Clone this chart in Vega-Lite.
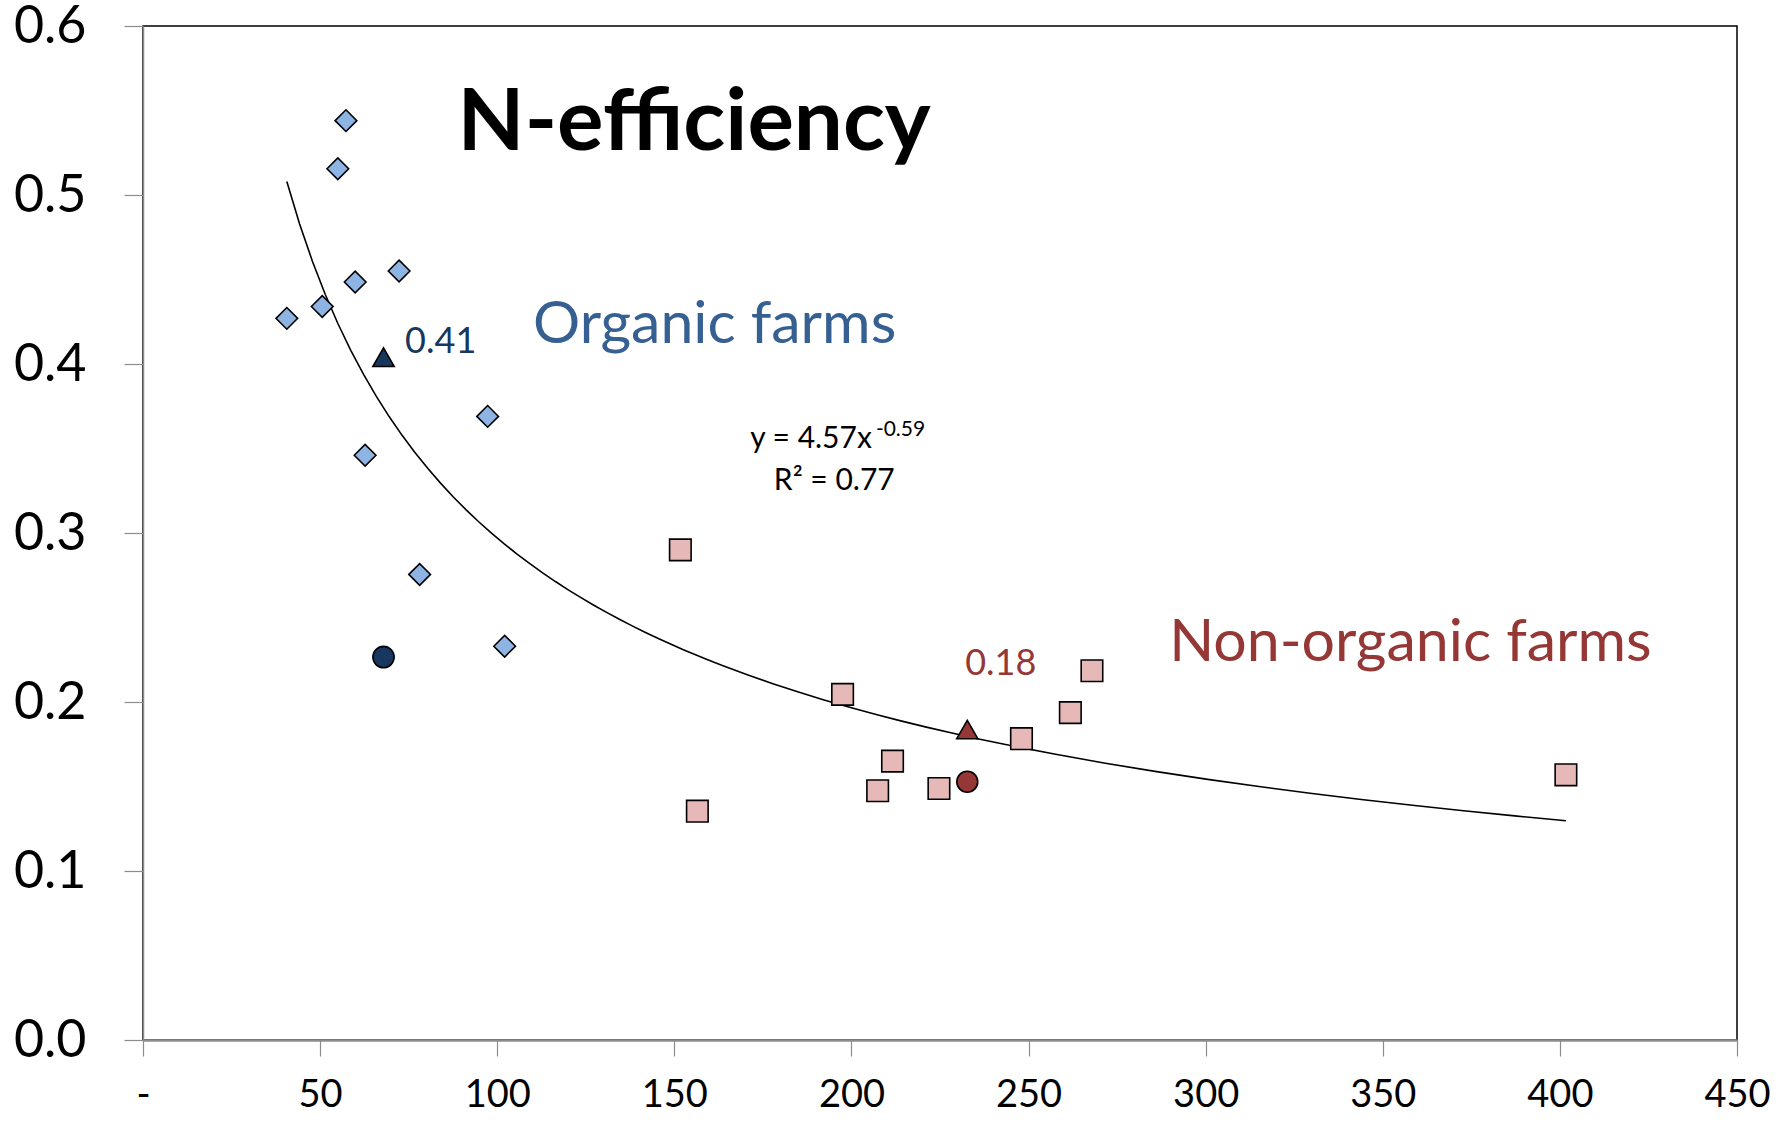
{
  "$schema": "https://vega.github.io/schema/vega-lite/v6.json",
  "width": 1594,
  "height": 1014,
  "autosize": {"type": "none"},
  "padding": {"left": 143, "top": 26, "right": 41, "bottom": 85},
  "background": "white",
  "config": {
    "font": "Lato",
    "view": {"stroke": "black", "strokeWidth": 1.5}
  },
  "datasets": {
    "farms": [
      {"series": "Organic farm", "x": 57.3, "y": 0.544},
      {"series": "Organic farm", "x": 55.0, "y": 0.5155},
      {"series": "Organic farm", "x": 72.3, "y": 0.455},
      {"series": "Organic farm", "x": 59.9, "y": 0.4485},
      {"series": "Organic farm", "x": 40.6, "y": 0.427},
      {"series": "Organic farm", "x": 50.6, "y": 0.434},
      {"series": "Organic farm", "x": 97.3, "y": 0.369},
      {"series": "Organic farm", "x": 62.7, "y": 0.346},
      {"series": "Organic farm", "x": 78.1, "y": 0.2755},
      {"series": "Organic farm", "x": 102.1, "y": 0.233},
      {"series": "Non-organic farm", "x": 151.7, "y": 0.290},
      {"series": "Non-organic farm", "x": 156.5, "y": 0.1354},
      {"series": "Non-organic farm", "x": 197.5, "y": 0.2045},
      {"series": "Non-organic farm", "x": 211.6, "y": 0.165},
      {"series": "Non-organic farm", "x": 207.4, "y": 0.1475},
      {"series": "Non-organic farm", "x": 224.7, "y": 0.1488},
      {"series": "Non-organic farm", "x": 248.0, "y": 0.1783},
      {"series": "Non-organic farm", "x": 261.8, "y": 0.1937},
      {"series": "Non-organic farm", "x": 267.9, "y": 0.2185},
      {"series": "Non-organic farm", "x": 401.7, "y": 0.1569},
      {"series": "Organic mean", "x": 67.9, "y": 0.404},
      {"series": "Organic average farm", "x": 67.9, "y": 0.2266},
      {"series": "Non-organic mean", "x": 232.7, "y": 0.1837},
      {"series": "Non-organic average farm", "x": 232.7, "y": 0.1528}
    ]
  },
  "layer": [
    {
      "data": {"name": "farms"},
      "transform": [
        {"filter": "datum.series === 'Organic farm' || datum.series === 'Non-organic farm'"},
        {"regression": "y", "on": "x", "method": "pow", "extent": [40.6, 401.7]}
      ],
      "mark": {"type": "line", "color": "black", "strokeWidth": 1.6, "clip": true},
      "encoding": {
        "x": {"field": "x", "type": "quantitative"},
        "y": {"field": "y", "type": "quantitative"}
      }
    },
    {
      "data": {"name": "farms"},
      "mark": {"type": "point", "filled": true, "stroke": "black", "strokeWidth": 1.6, "opacity": 1},
      "encoding": {
        "x": {
          "field": "x", "type": "quantitative",
          "scale": {"domain": [0, 450], "nice": false, "zero": false},
          "axis": {
            "values": [0, 50, 100, 150, 200, 250, 300, 350, 400, 450],
            "labelExpr": "datum.value === 0 ? '-' : datum.label",
            "format": "d",
            "title": null,
            "grid": false,
            "domainColor": "#8c8c8c",
            "domainWidth": 2.5,
            "tickColor": "#8c8c8c",
            "tickWidth": 1.2,
            "tickSize": 16,
            "labelFontSize": 38,
            "labelColor": "black",
            "labelPadding": 20,
            "labelFlush": false,
            "labelOverlap": false
          }
        },
        "y": {
          "field": "y", "type": "quantitative",
          "scale": {"domain": [0, 0.6], "nice": false},
          "axis": {
            "values": [0, 0.1, 0.2, 0.3, 0.4, 0.5, 0.6],
            "format": ".1f",
            "title": null,
            "grid": false,
            "domainColor": "#8c8c8c",
            "domainWidth": 1.5,
            "tickColor": "#8c8c8c",
            "tickWidth": 1.2,
            "tickSize": 19,
            "labelFontSize": 52,
            "labelColor": "black",
            "labelPadding": 38,
            "labelFlush": false,
            "labelOverlap": false
          }
        },
        "shape": {
          "field": "series", "type": "nominal",
          "scale": {
            "domain": ["Organic farm", "Non-organic farm", "Organic mean", "Organic average farm", "Non-organic mean", "Non-organic average farm"],
            "range": ["diamond", "square", "triangle-up", "circle", "triangle-up", "circle"]
          },
          "legend": null
        },
        "fill": {
          "field": "series", "type": "nominal",
          "scale": {
            "domain": ["Organic farm", "Non-organic farm", "Organic mean", "Organic average farm", "Non-organic mean", "Non-organic average farm"],
            "range": ["#8DB4E2", "#E6B9B8", "#17375E", "#17375E", "#953735", "#953735"]
          },
          "legend": null
        },
        "size": {
          "field": "series", "type": "nominal",
          "scale": {
            "domain": ["Organic farm", "Non-organic farm", "Organic mean", "Organic average farm", "Non-organic mean", "Non-organic average farm"],
            "range": [470, 440, 400, 360, 400, 360]
          },
          "legend": null
        }
      }
    },
    {
      "data": {"values": [{"label": "N-efficiency", "x": 155.6, "y": 0.5266}]},
      "mark": {"type": "text", "font": "Lato", "fontWeight": "bold", "fontSize": 87, "align": "center", "baseline": "alphabetic", "color": "black"},
      "encoding": {
        "x": {"field": "x", "type": "quantitative"},
        "y": {"field": "y", "type": "quantitative"},
        "text": {"field": "label"}
      }
    },
    {
      "data": {"values": [{"label": "Organic farms", "x": 110.1, "y": 0.4125}]},
      "mark": {"type": "text", "fontSize": 59, "align": "left", "baseline": "alphabetic", "color": "#376092"},
      "encoding": {
        "x": {"field": "x", "type": "quantitative"},
        "y": {"field": "y", "type": "quantitative"},
        "text": {"field": "label"}
      }
    },
    {
      "data": {"values": [{"label": "Non-organic farms", "x": 289.7, "y": 0.2243}]},
      "mark": {"type": "text", "fontSize": 59, "align": "left", "baseline": "alphabetic", "color": "#953735"},
      "encoding": {
        "x": {"field": "x", "type": "quantitative"},
        "y": {"field": "y", "type": "quantitative"},
        "text": {"field": "label"}
      }
    },
    {
      "data": {"values": [{"label": "0.41", "x": 74.0, "y": 0.4065}]},
      "mark": {"type": "text", "fontSize": 36, "align": "left", "baseline": "alphabetic", "color": "#17375E"},
      "encoding": {
        "x": {"field": "x", "type": "quantitative"},
        "y": {"field": "y", "type": "quantitative"},
        "text": {"field": "label"}
      }
    },
    {
      "data": {"values": [{"label": "0.18", "x": 232.1, "y": 0.216}]},
      "mark": {"type": "text", "fontSize": 36, "align": "left", "baseline": "alphabetic", "color": "#953735"},
      "encoding": {
        "x": {"field": "x", "type": "quantitative"},
        "y": {"field": "y", "type": "quantitative"},
        "text": {"field": "label"}
      }
    },
    {
      "data": {"values": [
        {"label": "y = 4.57x", "x": 171.4, "y": 0.3503},
        {"label": "R² = 0.77", "x": 178.1, "y": 0.3254}
      ]},
      "mark": {"type": "text", "fontSize": 30, "align": "left", "baseline": "alphabetic", "color": "black"},
      "encoding": {
        "x": {"field": "x", "type": "quantitative"},
        "y": {"field": "y", "type": "quantitative"},
        "text": {"field": "label"}
      }
    },
    {
      "data": {"values": [{"label": "-0.59", "x": 206.9, "y": 0.3575}]},
      "mark": {"type": "text", "fontSize": 21, "align": "left", "baseline": "alphabetic", "color": "black"},
      "encoding": {
        "x": {"field": "x", "type": "quantitative"},
        "y": {"field": "y", "type": "quantitative"},
        "text": {"field": "label"}
      }
    }
  ]
}
